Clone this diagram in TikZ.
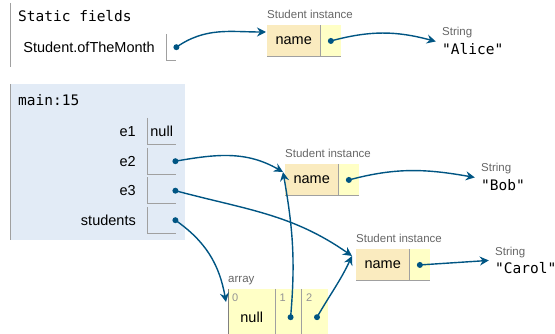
\documentclass[tikz,border=0pt]{standalone}
\usepackage{fontspec}
\setmainfont{Liberation Sans}
\setmonofont{DejaVu Sans Mono}
\usepackage{tikz}
\definecolor{FrameBg}{HTML}{E2EBF6}
\definecolor{KeyBg}{HTML}{FAEBBF}
\definecolor{ValBg}{HTML}{FFFFC6}
\definecolor{CellLine}{HTML}{A0A0A0}
\definecolor{PtrBlue}{HTML}{005583}
\definecolor{TagGray}{HTML}{666666}
\usetikzlibrary{arrows.meta,positioning,fit,calc}
\tikzset{%
  link/.style={-{Stealth[length=9pt,width=9pt,inset=3pt]},line width=1.4pt,draw=PtrBlue},
  dot/.style={circle,fill=PtrBlue,inner sep=0pt,minimum size=6pt},
  cell line/.style={draw=CellLine,line width=0.9pt},
  var name/.style={anchor=base east,inner sep=0pt,font=\fontsize{14.5}{17}\selectfont},
  mono/.style={anchor=base west,inner sep=0pt,font=\ttfamily\fontsize{14.5}{17}\selectfont},
  tag/.style={anchor=base west,inner sep=0pt,text=TagGray,font=\fontsize{11.5}{13}\selectfont},
  index/.style={anchor=north west,inner sep=0pt,text=TagGray!70,font=\fontsize{11}{13}\selectfont},
  slot/.style={anchor=north west,minimum width=29pt,minimum height=26pt,inner sep=0pt,font=\fontsize{14.5}{17}\selectfont},
  key cell/.style={anchor=north west,fill=KeyBg,minimum width=53pt,minimum height=31.5pt,inner sep=0pt,font=\fontsize{14.5}{17}\selectfont},
  val cell/.style={anchor=west,fill=ValBg,minimum width=20.5pt,minimum height=31.5pt,inner sep=0pt},
  elem/.style={anchor=north west,fill=ValBg,minimum height=56pt,inner sep=0pt,font=\fontsize{14.5}{17}\selectfont},
  str obj/.style={fit=#1,inner xsep=6pt,inner ysep=0pt}
}

\begin{document}
\begin{tikzpicture}[x=1pt,y=-1pt]
 \useasboundingbox (0,0) rectangle (555,334);

 % static fields
 \draw[cell line] (10,3) -- (10,67);
 \node[mono] (static) at (18,22) {Static fields};
 \node[var name] (otm) at (155,53) {Student.ofTheMonth};
 \node[slot, minimum width=10pt] (otmv) at (166,34) {};
 \draw[cell line] (otmv.north west) |- (otmv.south east);

 % stack frame
 \node[anchor=north west, fill=FrameBg, minimum width=175pt, minimum height=156pt, inner sep=0pt] (frame) at (10,84) {};
 \draw[cell line] (frame.north west) -- (frame.south west);
 \node[mono] (fname) at (18,106) {main:15};

 \node[var name] (e1) at (136,137) {e1};
 \node[var name] (e2) at (136,167) {e2};
 \node[var name] (e3) at (136,196) {e3};
 \node[var name] (st) at (136,226) {students};

 \node[slot] (e1v) at (147,118) {null};
 \node[slot] (e2v) at (147,148) {};
 \node[slot] (e3v) at (147,177.5) {};
 \node[slot] (stv) at (147,207) {};
 \draw[cell line] (e1v.north west) |- (e1v.south east);
 \draw[cell line] (e2v.north west) |- (e2v.south east);
 \draw[cell line] (e3v.north west) |- (e3v.south east);
 \draw[cell line] (stv.north west) |- (stv.south east);

 % instances
 \node[key cell] (alice) at (267,25) {name};
 \node[val cell, right=0pt of alice] (alicev) {};
 \node[tag] (alicet) at ([yshift=6pt]alice.north west) {Student instance};
 \draw[cell line] (alice.north east) -- (alice.south east);
 \draw[cell line] (alice.south west) -- (alicev.south east);

 \node[key cell] (bob) at (285,164) {name};
 \node[val cell, right=0pt of bob] (bobv) {};
 \node[tag] (bobt) at ([yshift=6pt]bob.north west) {Student instance};
 \draw[cell line] (bob.north east) -- (bob.south east);
 \draw[cell line] (bob.south west) -- (bobv.south east);

 \node[key cell] (carol) at (356,249) {name};
 \node[val cell, right=0pt of carol] (carolv) {};
 \node[tag] (carolt) at ([yshift=6pt]carol.north west) {Student instance};
 \draw[cell line] (carol.north east) -- (carol.south east);
 \draw[cell line] (carol.south west) -- (carolv.south east);

 % strings
 \node[mono] (alices) at (442,55) {"Alice"};
 \node[tag] (alicest) at ([yshift=19pt]alices.base west) {String};
 \node[str obj={(alices)(alicest)}] (alicestr) {};

 \node[mono] (bobs) at (481,191) {"Bob"};
 \node[tag] (bobst) at ([yshift=19pt]bobs.base west) {String};
 \node[str obj={(bobs)(bobst)}] (bobstr) {};

 \node[mono] (carols) at (495,274) {"Carol"};
 \node[tag] (carolst) at ([yshift=19pt]carols.base west) {String};
 \node[str obj={(carols)(carolst)}] (carolstr) {};

 % array
 \node[elem, minimum width=47pt] (a0) at (228,289) {null};
 \node[elem, minimum width=26pt] (a1) at (a0.north east) {};
 \node[elem, minimum width=26pt] (a2) at (a1.north east) {};
 \node[tag] (arrt) at ([yshift=6pt]a0.north west) {array};
 \draw[cell line, draw=gray] (a0.north west) -- (a0.south west);
 \draw[cell line] (a1.north west) -- (a1.south west);
 \draw[cell line] (a2.north west) -- (a2.south west);
 \node[index] (i0) at ([xshift=4pt,yshift=-5pt]a0.north west) {0};
 \node[index] (i1) at ([xshift=4pt,yshift=-5pt]a1.north west) {1};
 \node[index] (i2) at ([xshift=4pt,yshift=-5pt]a2.north west) {2};

 % pointers
 \coordinate (alicein) at ([xshift=-1pt,yshift=-7pt]alice.north west);
 \coordinate (bobin) at ([xshift=-2pt,yshift=-8pt]bob.north west);
 \coordinate (carolin) at ([xshift=-4pt,yshift=-7pt]carol.north west);
 \coordinate (arrin) at ([xshift=-2pt,yshift=-13pt]a0.north west);

 \node[dot] (otmd) at (otmv.east) {};
 \node[dot] (e2d) at ([xshift=-1pt]e2v.east) {};
 \node[dot] (e3d) at ([xshift=-1pt]e3v.east) {};
 \node[dot] (std) at ([xshift=-1pt]stv.east) {};
 \node[dot] (aliced) at (alicev.center) {};
 \node[dot] (bobd) at (bobv.center) {};
 \node[dot] (carold) at (carolv.center) {};
 \node[dot] (a1d) at ([xshift=2pt]a1.center) {};
 \node[dot] (a2d) at ([xshift=2pt]a2.center) {};

 \draw[link] (otmd.center) to[out=35, in=180] (alicein);
 \draw[link] (aliced.center) to[out=15, in=165] (alicestr.west);
 \draw[link] (bobd.center) to[out=15, in=170] (bobstr.west);
 \draw[link] (carold.center) to (carolstr.west);
 \draw[link] (e2d.center) to[out=10, in=150] (bobin);
 \draw[link] (e3d.center) to[out=-15, in=145] (carolin);
 \draw[link] (std.center) to[out=-35, in=100] (arrin);
 \draw[link] (a1d.center) to[out=85, in=-80] (bobin);
 \draw[link] (a2d.center) to[out=60, in=-115] (carolin);

\end{tikzpicture}
\end{document}
